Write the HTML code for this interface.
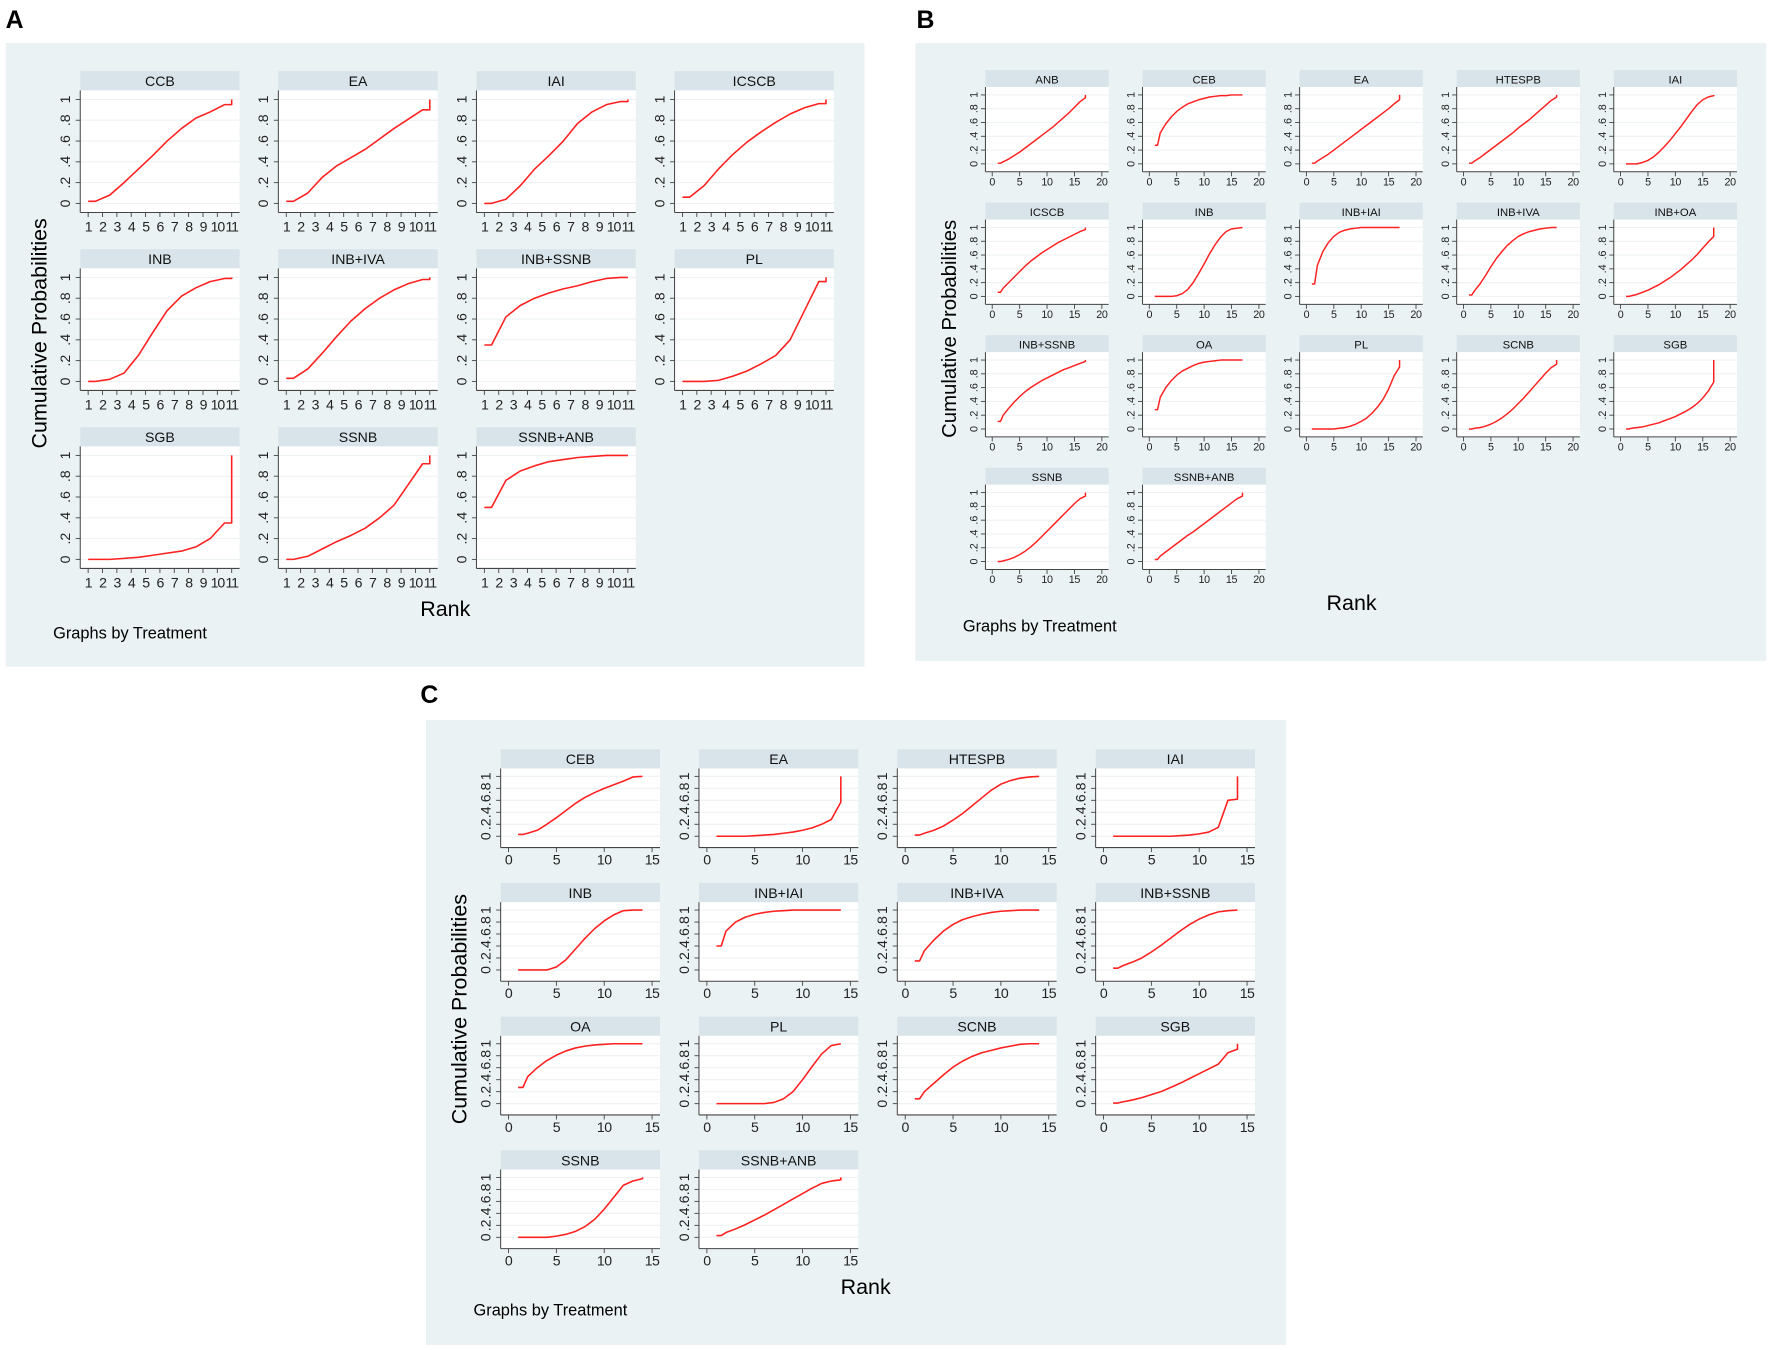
<!DOCTYPE html>
<html><head><meta charset="utf-8">
<style>
html,body{margin:0;padding:0;background:#fff;}
svg{display:block;font-family:"Liberation Sans",Arial,sans-serif;}
</style></head>
<body>
<svg id="fig" width="1772" height="1350" viewBox="0 0 1568 1194.6" xmlns="http://www.w3.org/2000/svg">
<g>
<rect x="5" y="38" width="760" height="552" fill="#eaf2f3"/>
<text x="5" y="25" font-size="22" font-weight="bold">A</text>
<text transform="translate(41,295) rotate(-90)" text-anchor="middle" font-size="19">Cumulative Probabilities</text>
<text x="394" y="545" text-anchor="middle" font-size="19">Rank</text>
<text x="47" y="565" font-size="14.5">Graphs by Treatment</text>
<g id="gA"></g>
</g>
<g>
<rect x="810" y="38" width="753" height="547" fill="#eaf2f3"/>
<text x="811" y="25" font-size="22" font-weight="bold">B</text>
<text transform="translate(846,291) rotate(-90)" text-anchor="middle" font-size="18">Cumulative Probabilities</text>
<text x="1196" y="540" text-anchor="middle" font-size="19">Rank</text>
<text x="852" y="559" font-size="14.5">Graphs by Treatment</text>
<g id="gB"></g>
</g>
<g>
<rect x="377" y="637" width="761" height="553" fill="#eaf2f3"/>
<text x="372" y="622" font-size="22" font-weight="bold">C</text>
<text transform="translate(413,893) rotate(-90)" text-anchor="middle" font-size="19">Cumulative Probabilities</text>
<text x="766" y="1145" text-anchor="middle" font-size="19">Rank</text>
<text x="419" y="1164" font-size="14.5">Graphs by Treatment</text>
<g id="gC"></g>
</g>
</svg>
<script>
// ---------- data ----------
const namesA = ["CCB","EA","IAI","ICSCB","INB","INB+IVA","INB+SSNB","PL","SGB","SSNB","SSNB+ANB"];
const ranksA = [1.5,2.5,3.5,4.5,5.5,6.5,7.5,8.5,9.5,10.5];
const valsA = [
[.02,.08,.2,.33,.46,.6,.72,.82,.88,.95],
[.02,.1,.25,.36,.44,.52,.62,.72,.81,.9],
[0,.04,.17,.33,.46,.6,.77,.88,.95,.98],
[.06,.17,.33,.47,.59,.69,.78,.86,.92,.96],
[0,.02,.08,.25,.47,.68,.82,.9,.96,.99],
[.03,.12,.27,.43,.58,.7,.8,.88,.94,.98],
[.35,.62,.73,.8,.85,.89,.92,.96,.99,1],
[0,0,.01,.05,.1,.17,.25,.4,.68,.96],
[0,0,.01,.02,.04,.06,.08,.12,.2,.35],
[0,.03,.1,.17,.23,.3,.4,.52,.72,.92],
[.5,.76,.85,.9,.94,.96,.98,.99,1,1]];
const xTicksA = ["1","2","3","4","5","6","7","8","9","10","11"];
const yTicksA = ["0",".2",".4",".6",".8","1"];

const namesB = ["ANB","CEB","EA","HTESPB","IAI","ICSCB","INB","INB+IAI","INB+IVA","INB+OA","INB+SSNB","OA","PL","SCNB","SGB","SSNB","SSNB+ANB"];
const ranksB = [1.5,2,3,4,5,6,7,8,9,10,11,12,13,14,15,16,17];
const valsB = [
[.01,.03,.07,.12,.17,.23,.29,.35,.41,.47,.53,.6,.67,.74,.82,.9,.96],
[.27,.45,.58,.68,.76,.82,.87,.9,.93,.95,.97,.98,.99,.99,1,1,1],
[.01,.04,.09,.14,.2,.26,.32,.38,.44,.5,.56,.62,.68,.74,.8,.87,.93],
[.01,.04,.09,.15,.21,.27,.33,.39,.45,.52,.58,.64,.71,.78,.85,.92,.97],
[0,0,0,.02,.05,.1,.17,.25,.34,.44,.54,.65,.76,.86,.93,.97,.99],
[.06,.12,.2,.28,.36,.44,.51,.57,.63,.68,.73,.78,.82,.86,.9,.94,.97],
[0,0,0,0,.01,.04,.1,.2,.33,.47,.62,.75,.86,.94,.98,.99,1],
[.18,.45,.65,.78,.87,.93,.96,.98,.99,1,1,1,1,1,1,1,1],
[.02,.08,.18,.3,.43,.55,.65,.74,.81,.87,.91,.94,.96,.98,.99,1,1],
[0,.01,.03,.06,.09,.13,.17,.22,.27,.33,.39,.46,.53,.61,.7,.79,.87],
[.11,.2,.3,.39,.47,.54,.6,.65,.7,.74,.78,.82,.86,.89,.92,.95,.98],
[.28,.46,.6,.7,.78,.84,.88,.92,.95,.97,.98,.99,1,1,1,1,1],
[0,0,0,0,0,.01,.02,.04,.07,.11,.16,.23,.32,.43,.58,.77,.9],
[0,.01,.02,.04,.07,.11,.16,.22,.29,.37,.45,.54,.63,.72,.81,.89,.94],
[0,.01,.02,.03,.05,.07,.09,.12,.15,.18,.22,.26,.31,.37,.45,.55,.68],
[0,.01,.03,.06,.1,.15,.21,.28,.36,.44,.52,.6,.68,.76,.84,.91,.95],
[.03,.08,.14,.2,.26,.32,.38,.43,.49,.55,.61,.67,.73,.79,.85,.91,.95]];
const xTicksB = ["0","5","10","15","20"];
const yTicksB = ["0",".2",".4",".6",".8","1"];

const namesC = ["CEB","EA","HTESPB","IAI","INB","INB+IAI","INB+IVA","INB+SSNB","OA","PL","SCNB","SGB","SSNB","SSNB+ANB"];
const ranksC = [1.5,2,3,4,5,6,7,8,9,10,11,12,13,14];
const valsC = [
[.03,.05,.1,.2,.31,.43,.55,.65,.73,.8,.86,.92,.99,1],
[0,0,0,0,.01,.02,.03,.05,.07,.1,.14,.2,.28,.57],
[.02,.05,.1,.17,.27,.38,.51,.64,.77,.87,.93,.97,.99,1],
[0,0,0,0,0,0,0,.01,.02,.04,.07,.15,.6,.62],
[0,0,0,0,.05,.17,.35,.53,.69,.82,.92,.99,1,1],
[.4,.65,.8,.88,.93,.96,.98,.99,1,1,1,1,1,1],
[.15,.32,.5,.65,.76,.84,.89,.93,.96,.98,.99,1,1,1],
[.03,.07,.13,.2,.3,.41,.53,.65,.76,.85,.92,.97,.99,1],
[.27,.45,.6,.72,.81,.88,.93,.96,.98,.99,1,1,1,1],
[0,0,0,0,0,0,.02,.08,.2,.4,.62,.83,.97,1],
[.08,.2,.34,.48,.61,.71,.79,.85,.89,.93,.96,.99,1,1],
[.01,.03,.06,.1,.15,.2,.27,.34,.42,.5,.58,.66,.85,.91],
[0,0,0,0,.02,.05,.1,.18,.3,.47,.67,.87,.94,.98],
[.03,.08,.14,.21,.29,.37,.46,.55,.64,.73,.82,.9,.94,.96]];
const xTicksC = ["0","5","10","15"];
const yTicksC = ["0",".2",".4",".6",".8","1"];

// ---------- drawing ----------
const NS = "http://www.w3.org/2000/svg";
function mk(tag, attrs, parent){
  const e = document.createElementNS(NS, tag);
  for (const k in attrs) e.setAttribute(k, attrs[k]);
  parent.appendChild(e);
  return e;
}
function drawPanel(g, cfg, names, ranks, vals, xTicks, yTicks){
  names.forEach((nm, i) => {
    const c = i % cfg.cols, r = Math.floor(i / cfg.cols);
    const L = cfg.x0 + c*cfg.dx, T = cfg.y0 + r*cfg.dy;
    const top = T + cfg.th, bot = top + cfg.ph, R = L + cfg.w;
    const sg = mk("g", {}, g);
    
    
    const tb = mk("rect", {x:L, y:T, width:cfg.w, height:cfg.th, fill:"#d9e4ea"}, sg);
    
    
    const tt = mk("text", {x:L+cfg.w/2, y:T+cfg.th*0.78, "text-anchor":"middle", "font-size":cfg.tfs, fill:"#111"}, sg);
    tt.textContent = nm;
    
    
    const pa = mk("rect", {x:L, y:top, width:cfg.w, height:cfg.ph, fill:"#fff"}, sg);
    
    
    const ys = v => top + cfg.y1 + (1 - v)*(cfg.y0v - cfg.y1);
    const xs = x => L + cfg.xa + (x - cfg.xmin)/(cfg.xmax - cfg.xmin)*(cfg.xb - cfg.xa);
    yTicks.forEach((lab, k) => {
      const v = k/(yTicks.length-1), y = ys(v);
      const gl = mk("line", {x1:L, x2:R, y1:y, y2:y, stroke:"#eef2f4", "stroke-width":1}, sg);
      
      
      mk("line", {x1:L-4, x2:L, y1:y, y2:y, stroke:"#444", "stroke-width":0.8}, sg);
      const yl = mk("text", {transform:`translate(${L-cfg.ylo},${y}) rotate(-90)`, "text-anchor":"middle", "font-size":cfg.fs, fill:"#222"}, sg);
      yl.textContent = lab;
      
      
    });
    mk("line", {x1:L, x2:L, y1:top, y2:bot, stroke:"#444", "stroke-width":0.9}, sg);
    mk("line", {x1:L, x2:R, y1:bot, y2:bot, stroke:"#444", "stroke-width":0.9}, sg);
    xTicks.forEach(lab => {
      const x = xs(parseFloat(lab));
      mk("line", {x1:x, x2:x, y1:bot, y2:bot+4, stroke:"#444", "stroke-width":0.8}, sg);
      const xl = mk("text", {x:x, y:bot+cfg.xlo, "text-anchor":"middle", "font-size":cfg.fs, fill:"#222", "letter-spacing":cfg.ls}, sg);
      xl.textContent = lab;
      
      
    });
    const v = vals[i];
    const pts = [];
    pts.push([cfg.start, v[0]]);
    ranks.forEach((rk, k) => pts.push([rk, v[k]]));
    pts.push([cfg.last, v[v.length-1]]);
    pts.push([cfg.last, 1]);
    const d = pts.map((p, k) => (k ? "L" : "M") + xs(p[0]).toFixed(2) + "," + ys(p[1]).toFixed(2)).join(" ");
    const ln = mk("path", {d:d, fill:"none", stroke:"#ff2020", "stroke-width":cfg.sw, "stroke-linejoin":"round"}, sg);
    
    
  });
}
drawPanel(document.getElementById("gA"),
  {cols:4, x0:71, dx:175.3, y0:63, dy:157.5, w:141, th:17, ph:108, y1:8, y0v:100,
   xa:7, xb:134, xmin:1, xmax:11, start:1, last:11, tfs:12.5, fs:12.5, ylo:9, xlo:17, ls:"-1", sw:1.4},
  namesA, ranksA, valsA, xTicksA, yTicksA);
drawPanel(document.getElementById("gB"),
  {cols:5, x0:872, dx:139, y0:62, dy:117.3, w:109, th:15, ph:75, y1:7, y0v:68,
   xa:6, xb:103, xmin:0, xmax:20, start:1, last:17, tfs:10, fs:9.5, ylo:7, xlo:12, ls:"-0.3", sw:1.3},
  namesB, ranksB, valsB, xTicksB, yTicksB);
drawPanel(document.getElementById("gC"),
  {cols:4, x0:443, dx:175.5, y0:663, dy:118.3, w:141, th:17, ph:70, y1:7, y0v:60,
   xa:7, xb:134, xmin:0, xmax:15, start:1, last:14, tfs:12.5, fs:12.5, ylo:9, xlo:15, ls:"-0.5", sw:1.4},
  namesC, ranksC, valsC, xTicksC, yTicksC);
</script>
</body></html>
